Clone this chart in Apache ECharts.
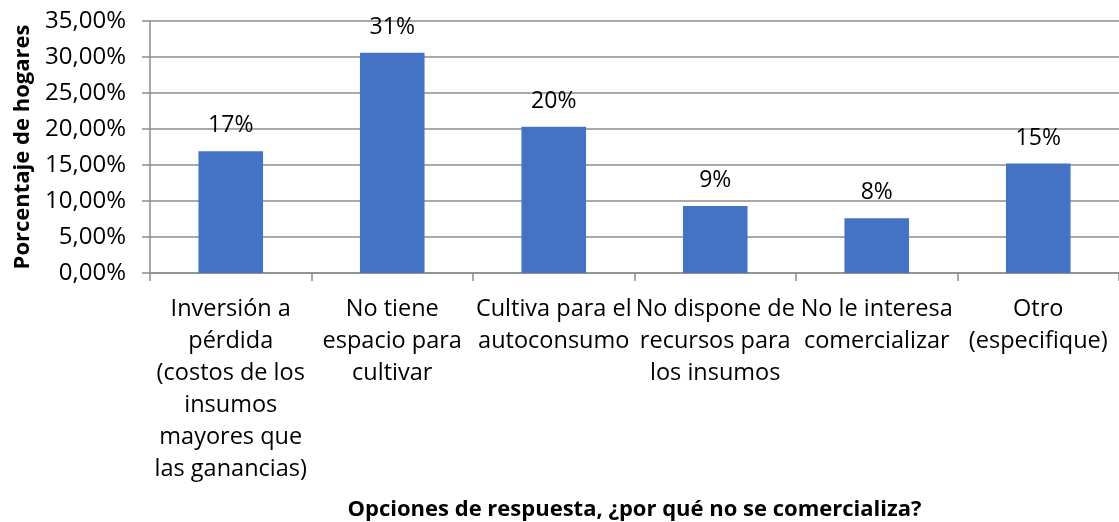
<!DOCTYPE html>
<html>
<head>
<meta charset="utf-8">
<script src="https://cdn.jsdelivr.net/npm/echarts@6/dist/echarts.min.js"></script>
<style>
  html, body { margin: 0; padding: 0; background: #fff; }
  #chart { width: 1119px; height: 522px; }
</style>
</head>
<body>
<div id="chart"></div>
<script>
// categories (line breaks as in the original labels)
const categories = [
  'Inversión a\npérdida\n(costos de los\ninsumos\nmayores que\nlas ganancias)',
  'No tiene\nespacio para\ncultivar',
  'Cultiva para el\nautoconsumo',
  'No dispone de\nrecursos para\nlos insumos',
  'No le interesa\ncomercializar',
  'Otro\n(especifique)'
]
// percentage of households
const porcentajes = [16.9, 30.6, 20.3, 9.3, 7.6, 15.2]

const font = '"Open Sans", Calibri, sans-serif'
const gray = '#8c8c8c'

const myChart = echarts.init(document.getElementById('chart'))
myChart.setOption({
  animation: false,
  textStyle: { fontFamily: font },
  grid: { left: 150, right: -2, top: 21, bottom: 249, containLabel: false },
  xAxis: {
    type: 'category',
    data: categories,
    name: 'Opciones de respuesta, ¿por qué no se comercializa?',
    nameLocation: 'middle',
    nameGap: 226,
    nameTextStyle: { fontFamily: font, fontSize: 22, fontWeight: 'bold', color: '#000', verticalAlign: 'top' },
    axisLine: { lineStyle: { color: gray, width: 1.5 } },
    axisTick: { show: true, length: 8, alignWithLabel: false, lineStyle: { color: gray, width: 1.5 } },
    axisLabel: { interval: 0, margin: 20, fontSize: 23.5, lineHeight: 32, color: '#000', fontFamily: font }
  },
  yAxis: {
    type: 'value',
    min: 0,
    max: 35,
    interval: 5,
    name: 'Porcentaje de hogares',
    nameLocation: 'middle',
    nameGap: 116,
    nameTextStyle: { fontFamily: font, fontSize: 22, fontWeight: 'bold', color: '#000' },
    axisLine: { show: true, lineStyle: { color: gray, width: 1.5 } },
    axisTick: { show: true, length: 8, lineStyle: { color: gray, width: 1.5 } },
    splitLine: { lineStyle: { color: gray, width: 1.5 } },
    axisLabel: {
      margin: 24,
      fontSize: 24,
      color: '#000',
      fontFamily: font,
      formatter: v => v.toFixed(2).replace('.', ',') + '%'
    }
  },
  series: [{
    type: 'bar',
    data: porcentajes,
    barWidth: '40%',
    itemStyle: { color: '#4472C4' },
    label: {
      show: true,
      position: 'top',
      distance: 14,
      fontSize: 23,
      color: '#000',
      fontFamily: font,
      formatter: p => Math.round(p.value) + '%'
    }
  }]
})
</script>
</body>
</html>
